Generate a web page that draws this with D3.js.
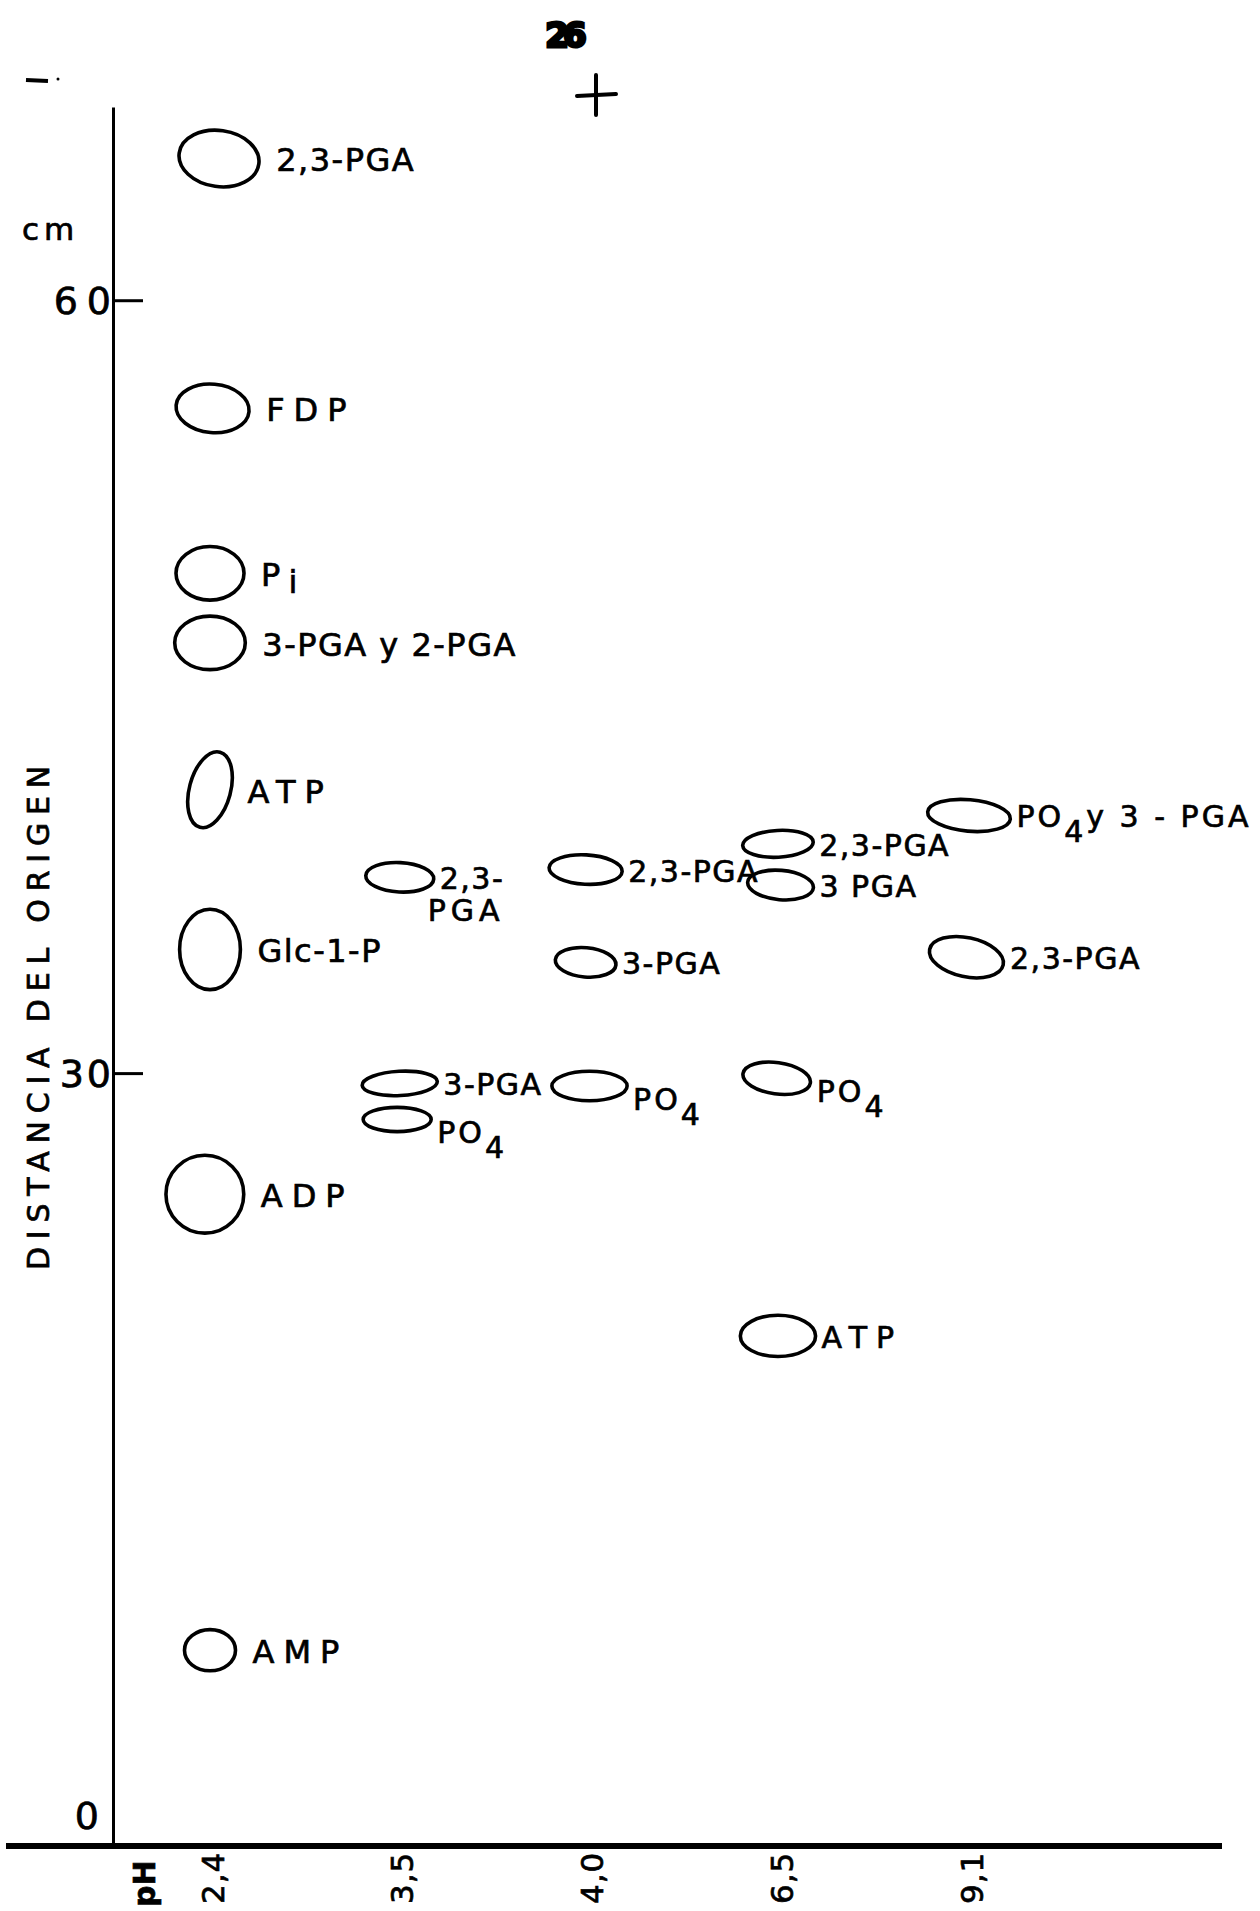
<!DOCTYPE html>
<html>
<head>
<meta charset="utf-8">
<script src="https://cdn.jsdelivr.net/npm/d3@7"></script>
<style>
  html, body { margin: 0; padding: 0; background: #fff; }
  svg { display: block; }
  text { font-family: "DejaVu Sans", sans-serif; fill: #000; stroke: #000; stroke-width: 0.7px; }
</style>
</head>
<body>
<div id="chart"></div>
<script>
// Paper chromatography of phosphate esters: distance travelled (cm) per pH
const lanes = ["2,4", "3,5", "4,0", "6,5", "9,1"];
const yTicks = [0, 30, 60];

// one entry per spot (lane, distance from origin in cm, spot label)
const spotLane  = ["2,4", "2,4", "2,4", "2,4", "2,4", "2,4", "2,4", "2,4",
                   "3,5", "3,5", "3,5",
                   "4,0", "4,0", "4,0",
                   "6,5", "6,5", "6,5", "6,5",
                   "9,1", "9,1"];
const spotDist  = [65.5, 55.8, 49.4, 46.7, 41.0, 34.8, 25.3, 7.6,
                   37.6, 29.6, 28.2,
                   37.9, 34.3, 29.5,
                   38.9, 37.3, 29.8, 19.8,
                   40.0, 34.5];
// sideways drift of the spot from the lane centre (cm)
const spotDrift = [0.35, 0.1, 0, 0, 0, 0, -0.2, 0,
                   0, 0, -0.1,
                   -0.15, -0.15, 0,
                   -0.05, 0.05, -0.1, -0.05,
                   0, -0.1];
// spot half-width / half-height in cm and tilt of the drawn outline (deg)
const spotHalfW = [1.56, 1.42, 1.32, 1.37, 0.80, 1.18, 1.51, 0.99,
                   1.32, 1.46, 1.32,
                   1.42, 1.18, 1.46,
                   1.37, 1.28, 1.32, 1.46,
                   1.61, 1.46];
const spotHalfH = [1.09, 0.94, 1.04, 1.04, 1.51, 1.56, 1.51, 0.80,
                   0.57, 0.47, 0.47,
                   0.57, 0.57, 0.57,
                   0.52, 0.57, 0.61, 0.80,
                   0.61, 0.76];
const spotTilt  = [8, 5, 0, 0, 15, 0, 0, 0,
                   3, -3, 0,
                   3, 5, 0,
                   -3, 5, 8, 0,
                   5, 12];
const spotLabel = ["2,3-PGA", "FDP", "P_i", "3-PGA y 2-PGA", "ATP", "Glc-1-P", "ADP", "AMP",
                   "2,3-|PGA", "3-PGA", "PO_4",
                   "2,3-PGA", "3-PGA", "PO_4",
                   "2,3-PGA", "3 PGA", "PO_4", "ATP",
                   "PO_4y 3 - PGA", "2,3-PGA"];

const width = 1260, height = 1911;
const axisX = 113, baseY = 1846, topY = 107;

const svg = d3.select("#chart").append("svg")
  .attr("width", width)
  .attr("height", height);

const x = d3.scalePoint().domain(lanes).range([210, 969]);
const y = d3.scaleLinear().domain([0, 67.5]).range([baseY, topY]);
const cm = y(0) - y(1); // pixels per cm on the paper

// page number and origin cross
svg.append("text")
  .attr("x", 563).attr("y", 47)
  .attr("text-anchor", "middle")
  .style("font-size", "34px").style("font-weight", "bold")
  .style("stroke-width", "3px")
  .style("letter-spacing", "-6px")
  .text("26");
const cross = svg.append("g").attr("transform", "translate(596,95)")
  .attr("stroke", "#000").attr("stroke-width", 4).attr("stroke-linecap", "round");
cross.append("line").attr("x1", -19).attr("x2", 20).attr("y1", 1).attr("y2", -1);
cross.append("line").attr("x1", 0).attr("x2", 0).attr("y1", -20).attr("y2", 20);
svg.append("line")
  .attr("x1", 26).attr("x2", 48).attr("y1", 80).attr("y2", 81)
  .attr("stroke", "#000").attr("stroke-width", 4);
svg.append("circle").attr("cx", 58).attr("cy", 79).attr("r", 1.5).attr("fill", "#000");

// y axis, ticks pointing into the plot
const tickSpace = d => d === 60 ? 9 : (d === 30 ? 3 : 0);
const yAxis = svg.append("g")
  .attr("transform", `translate(${axisX},0)`)
  .call(d3.axisLeft(y).tickValues(yTicks).tickSizeInner(-30).tickSizeOuter(0).tickPadding(0)
    .tickFormat(d3.format("d")));
yAxis.select(".domain").attr("stroke", "#000").attr("stroke-width", 3);
yAxis.selectAll(".tick line").attr("stroke", "#000").attr("stroke-width", 3)
  .attr("display", d => d === 0 ? "none" : null);
yAxis.selectAll(".tick text")
  .attr("fill", "#000")
  .attr("dx", d => d === 0 ? -14 : tickSpace(d) - 2)
  .attr("dy", d => d === 0 ? "-0.45em" : "0.36em")
  .style("font-family", "'DejaVu Sans', sans-serif")
  .style("font-size", "38px")
  .style("letter-spacing", d => tickSpace(d) + "px");

svg.append("text")
  .attr("x", 22).attr("y", 240)
  .style("font-size", "31px")
  .style("letter-spacing", "5px")
  .text("cm");

svg.append("text")
  .attr("transform", `translate(38,1014) rotate(-90)`)
  .attr("text-anchor", "middle")
  .attr("dy", "0.36em")
  .style("font-size", "30px")
  .style("letter-spacing", "7.8px")
  .text("DISTANCIA DEL ORIGEN");

// baseline (pH axis)
svg.append("line")
  .attr("x1", 6).attr("x2", 1222)
  .attr("y1", baseY).attr("y2", baseY)
  .attr("stroke", "#000").attr("stroke-width", 6);

const xAxis = svg.append("g").attr("transform", `translate(0,${baseY})`)
  .call(d3.axisBottom(x).tickSize(0));
xAxis.select(".domain").remove();
xAxis.selectAll(".tick text")
  .attr("fill", "#000")
  .attr("text-anchor", "start")
  .attr("transform", "translate(2,58) rotate(-90)")
  .attr("x", 0).attr("y", 0).attr("dy", "0.36em")
  .style("font-family", "'DejaVu Sans', sans-serif")
  .style("font-size", "31px")
  .style("letter-spacing", "1px");
svg.append("text")
  .attr("transform", `translate(144,${baseY + 61}) rotate(-90)`)
  .attr("dy", "0.36em")
  .style("font-size", "30px").style("font-weight", "bold")
  .text("pH");

// spots
const spots = spotDist.map((d, i) => ({
  lane: spotLane[i], dist: d, drift: spotDrift[i], rx: spotHalfW[i], ry: spotHalfH[i],
  tilt: spotTilt[i], label: spotLabel[i]
}));
const cx = d => x(d.lane) + d.drift * cm;

const g = svg.append("g");

g.selectAll("ellipse.spot")
  .data(spots)
  .join("ellipse")
  .attr("class", "spot")
  .attr("transform", d => `translate(${cx(d)},${y(d.dist)}) rotate(${d.tilt})`)
  .attr("rx", d => d.rx * cm)
  .attr("ry", d => d.ry * cm)
  .attr("fill", "none")
  .attr("stroke", "#000")
  .attr("stroke-width", 3.6);

// labels next to spots; "_4" is a subscript, "|" a line break
g.selectAll("text.lab")
  .data(spots)
  .join("text")
  .attr("class", "lab")
  .each(function(d) {
    const first = d.lane === lanes[0];
    const fs = first ? 32 : 30;
    const gap = first ? 17 : 6;
    const sub = d.label.includes("_");
    const short = d.label.length <= 3;
    const lowered = d.label === "PO_4" ? 12 : 0;
    const x0 = cx(d) + d.rx * cm + gap;
    const t = d3.select(this)
      .attr("x", x0)
      .attr("y", y(d.dist) + fs * 0.4 + lowered)
      .style("font-size", fs + "px")
      .style("letter-spacing", (short ? 9 : (sub ? 3 : 1.5)) + "px");
    d.label.split("|").forEach((ln, li) => {
      const parts = ln.split(/_(.)/);
      parts.forEach((p, pi) => {
        if (!p) return;
        const ts = t.append("tspan").text(p);
        if (li > 0 && pi === 0) ts.attr("x", x0 - 12).attr("dy", "1.05em").style("letter-spacing", "5px");
        if (pi % 2 === 1) ts.attr("dy", p === "i" ? "0.2em" : "0.5em");
        else if (pi > 0) ts.attr("dy", "-0.5em");
      });
    });
  });
</script>
</body>
</html>
